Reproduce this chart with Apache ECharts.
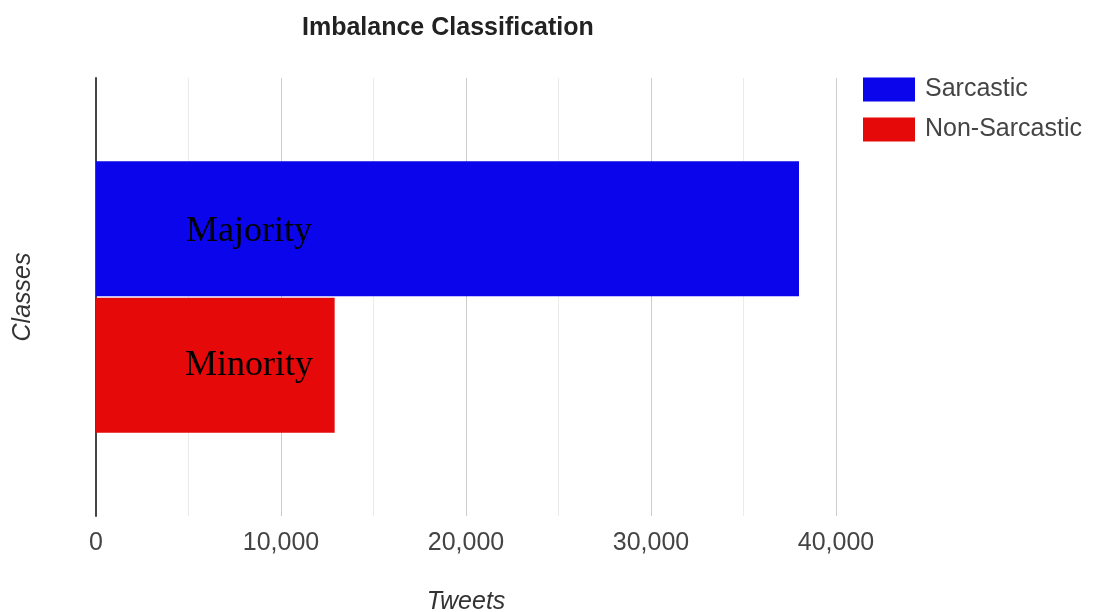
<!DOCTYPE html>
<html>
<head>
<meta charset="utf-8">
<script src="https://cdn.jsdelivr.net/npm/echarts@6/dist/echarts.min.js"></script>
<style>html,body{margin:0;padding:0;background:#fff;}#c{width:1097px;height:612px;}</style>
</head>
<body>
<div id="c"></div>
<script>
const categories = ['Classes'];
const seriesNames = ['Sarcastic', 'Non-Sarcastic'];
const sarcasticValues = [38000];
const nonSarcasticValues = [12900];
const barLabels = ['Majority', 'Minority'];
const tickLabels = ['0', '10,000', '20,000', '30,000', '40,000'];
const seriesColors = ['#0a05ea', '#e60909'];

const chart = echarts.init(document.getElementById('c'));
const valueLists = [sarcasticValues, nonSarcasticValues];
const labelOffsets = [[0, 3], [0, 0]];
chart.setOption({
  animation: false,
  title: {
    text: 'Imbalance Classification',
    left: 297, top: 11,
    textStyle: { fontFamily: 'Arial, Liberation Sans', fontSize: 25, fontWeight: 'bold', color: '#222' }
  },
  legend: {
    orient: 'vertical', left: 858, top: 72,
    itemWidth: 52, itemHeight: 24, itemGap: 15,
    icon: 'rect',
    data: seriesNames,
    textStyle: { fontFamily: 'Arial, Liberation Sans', fontSize: 25, color: '#444', padding: [0, 0, 0, 5] }
  },
  grid: { left: 96, right: 261, top: 78, bottom: 96, containLabel: false, outerBoundsMode: 'none' },
  xAxis: {
    type: 'value', min: 0, max: 40000, interval: 10000,
    name: 'Tweets', nameLocation: 'middle', nameGap: 74,
    nameTextStyle: { fontFamily: 'Arial, Liberation Sans', fontSize: 25, fontStyle: 'italic', color: '#333' },
    axisLine: { show: false }, axisTick: { show: false },
    axisLabel: {
      margin: 15, fontFamily: 'Arial, Liberation Sans', fontSize: 25, color: '#444',
      formatter: function (v) { return tickLabels[Math.round(v / 10000)]; }
    },
    splitLine: { show: true, lineStyle: { color: '#cccccc', width: 1 } },
    minorTick: { show: false, splitNumber: 2 },
    minorSplitLine: { show: true, lineStyle: { color: '#ebebeb', width: 1 } }
  },
  yAxis: {
    type: 'category', data: categories, inverse: true,
    name: 'Classes', nameLocation: 'middle', nameGap: 60, nameRotate: 90,
    nameTextStyle: { fontFamily: 'Arial, Liberation Sans', fontSize: 25, fontStyle: 'italic', color: '#333' },
    axisLine: { show: true, lineStyle: { color: '#444', width: 2 } },
    axisTick: { show: false }, axisLabel: { show: false }, splitLine: { show: false }
  },
  series: seriesNames.map(function (name, i) {
    return {
      name: name, type: 'bar', data: valueLists[i],
      barWidth: 135, barGap: '1%',
      itemStyle: { color: seriesColors[i] },
      label: {
        show: true, position: [153, '50%'], offset: labelOffsets[i],
        align: 'center', verticalAlign: 'middle',
        formatter: barLabels[i],
        fontFamily: 'Liberation Serif, Times New Roman, serif', fontSize: 36, color: '#000'
      }
    };
  })
});
</script>
</body>
</html>
